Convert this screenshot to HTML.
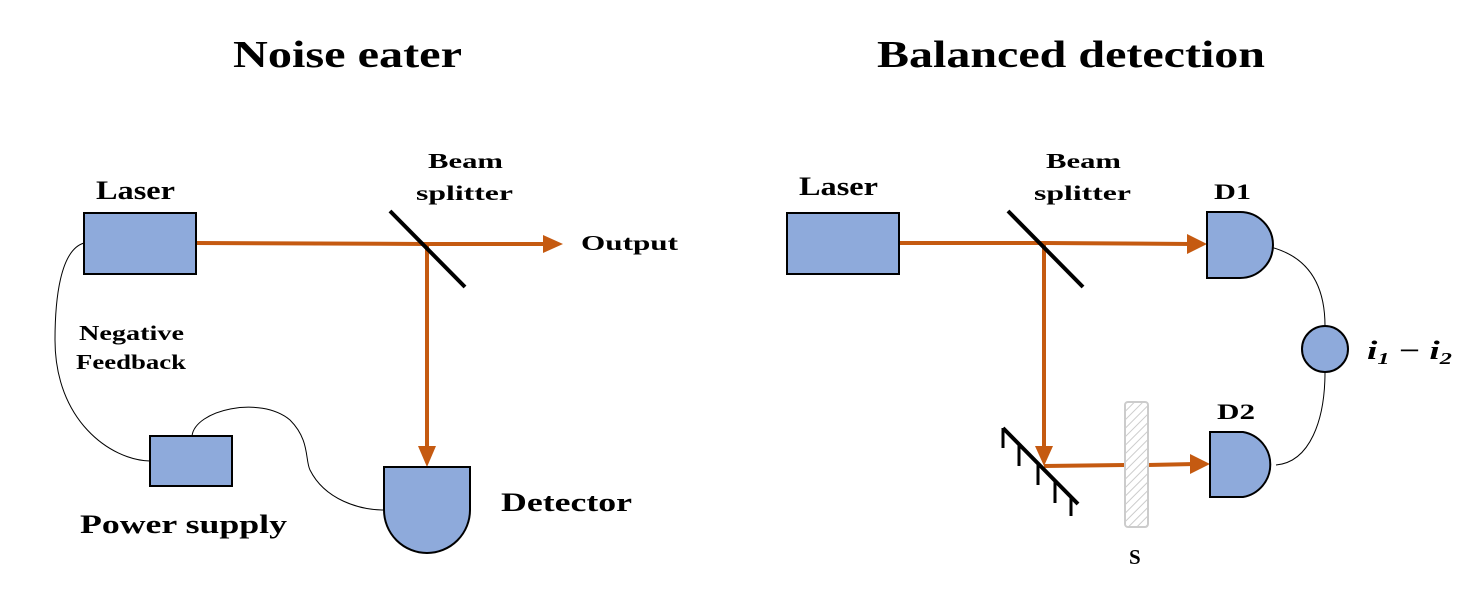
<!DOCTYPE html>
<html><head><style>
body{margin:0;background:#fff}
svg{display:block}
text{font-family:"Liberation Serif",serif;font-weight:bold;fill:#000}
</style></head><body>
<svg width="1463" height="608" viewBox="0 0 1463 608">
<defs>
<pattern id="h" width="6" height="6" patternUnits="userSpaceOnUse" patternTransform="rotate(45)"><rect width="6" height="6" fill="#fff"/><line x1="0" y1="0" x2="0" y2="6" stroke="#ccc" stroke-width="2"/></pattern>
</defs>
<text x="233" y="67" font-size="38" textLength="229" lengthAdjust="spacingAndGlyphs">Noise eater</text>
<text x="877" y="67" font-size="38" textLength="388" lengthAdjust="spacingAndGlyphs">Balanced detection</text>
<g fill="none" stroke="#000" stroke-width="1">
<path d="M84,243 C60,250 55,300 55,340 C55,420 110,460 150,461"/>
<path d="M192,436 C195,410 260,395 290,420 C310,440 305,460 310,470 C325,500 360,510 384,510"/>
<path d="M1240,243 C1320,245 1325,300 1325,326"/>
<path d="M1325,372 C1325,420 1310,462 1276,465"/>
</g>
<g stroke="#c55a11" stroke-width="4" fill="none">
<line x1="196" y1="243" x2="427" y2="244"/>
<line x1="427" y1="244" x2="553" y2="244"/>
<line x1="427" y1="244" x2="427" y2="452"/>
<line x1="899" y1="243" x2="1044" y2="243"/>
<line x1="1044" y1="243" x2="1192" y2="244"/>
<line x1="1044" y1="243" x2="1044" y2="450"/>
<line x1="1044" y1="466" x2="1125" y2="465"/>
<line x1="1148" y1="465" x2="1195" y2="464"/>
</g>
<g fill="#c55a11">
<path d="M543,235 L563,244 L543,253z"/>
<path d="M418,446 L427,467 L436,446z"/>
<path d="M1187,234 L1207,244 L1187,254z"/>
<path d="M1035,446 L1044,466 L1053,446z"/>
<path d="M1190,454 L1210,464 L1190,474z"/>
</g>
<g fill="#8eaadb" stroke="#000" stroke-width="2">
<rect x="84" y="213" width="112" height="61"/>
<rect x="150" y="436" width="82" height="50"/>
<path d="M384,467 H470 V510 A43,43 0 0 1 384,510 Z"/>
<rect x="787" y="213" width="112" height="61"/>
<path d="M1207,212 H1240 A33,33 0 0 1 1240,278 H1207 Z"/>
<path d="M1210,432 H1243 A33,33 0 0 1 1243,497 H1210 Z"/>
<circle cx="1325" cy="349" r="23"/>
</g>
<g stroke="#000" stroke-width="4">
<line x1="390" y1="211" x2="465" y2="287"/>
<line x1="1008" y1="211" x2="1083" y2="287"/>
<line x1="1003" y1="428" x2="1078" y2="504"/>
</g>
<g stroke="#000" stroke-width="3">
<line x1="1003" y1="428" x2="1003" y2="448"/>
<line x1="1019" y1="444" x2="1019" y2="466"/>
<line x1="1038" y1="463" x2="1038" y2="485"/>
<line x1="1055" y1="481" x2="1055" y2="503"/>
<line x1="1071" y1="497" x2="1071" y2="516"/>
</g>
<rect x="1125" y="402" width="23" height="125" rx="3" fill="url(#h)" stroke="#ccc" stroke-width="2"/>
<text x="96" y="199" font-size="26" textLength="79" lengthAdjust="spacingAndGlyphs">Laser</text>
<text x="428" y="168" font-size="21" textLength="75" lengthAdjust="spacingAndGlyphs">Beam</text>
<text x="416" y="200" font-size="21" textLength="97" lengthAdjust="spacingAndGlyphs">splitter</text>
<text x="581" y="250" font-size="21" textLength="97" lengthAdjust="spacingAndGlyphs">Output</text>
<text x="79" y="340" font-size="21" textLength="105" lengthAdjust="spacingAndGlyphs">Negative</text>
<text x="76" y="369" font-size="21" textLength="110" lengthAdjust="spacingAndGlyphs">Feedback</text>
<text x="80" y="533" font-size="26" textLength="207" lengthAdjust="spacingAndGlyphs">Power supply</text>
<text x="501" y="511" font-size="26" textLength="131" lengthAdjust="spacingAndGlyphs">Detector</text>
<text x="799" y="195" font-size="26" textLength="79" lengthAdjust="spacingAndGlyphs">Laser</text>
<text x="1046" y="168" font-size="21" textLength="75" lengthAdjust="spacingAndGlyphs">Beam</text>
<text x="1034" y="200" font-size="21" textLength="97" lengthAdjust="spacingAndGlyphs">splitter</text>
<text x="1214" y="199" font-size="22" textLength="37" lengthAdjust="spacingAndGlyphs">D1</text>
<text x="1217" y="419" font-size="22" textLength="38" lengthAdjust="spacingAndGlyphs">D2</text>
<text x="1129" y="564" font-size="21">S</text>
<text x="1367" y="359" font-size="26" font-style="italic" textLength="85" lengthAdjust="spacingAndGlyphs">i<tspan font-size="17" dy="5">1</tspan><tspan dy="-5" font-style="normal"> − </tspan>i<tspan font-size="17" dy="5">2</tspan></text>
</svg>
</body></html>
